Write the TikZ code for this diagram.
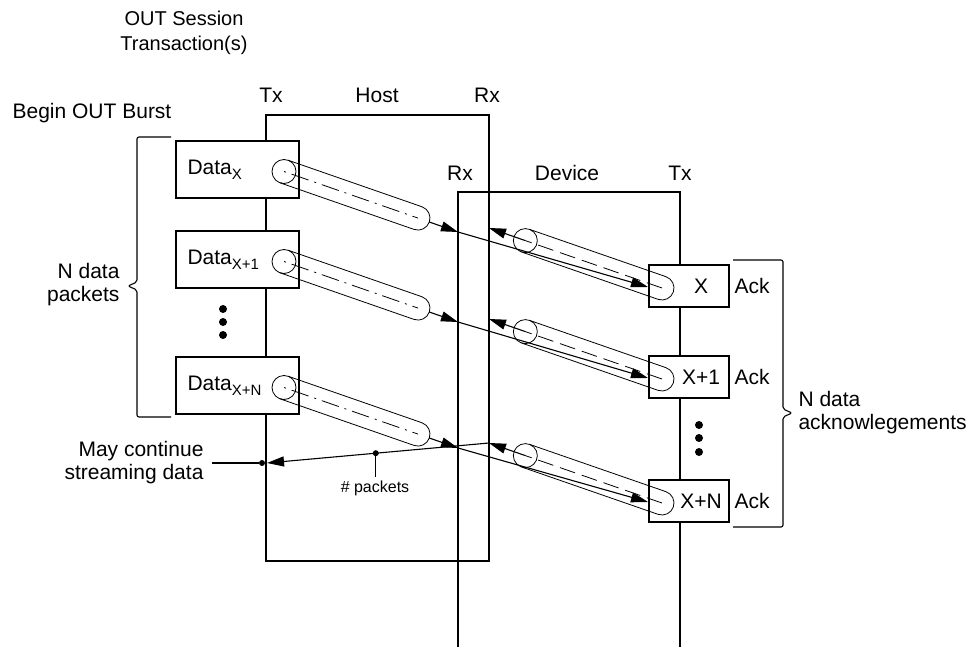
\documentclass[tikz,border=0pt]{standalone}
\usepackage{fontspec}
\setmainfont{Liberation Sans}
\usetikzlibrary{arrows.meta, positioning, calc}

\newcommand{\sub}[1]{\raisebox{-5pt}{\fontsize{15}{15}\selectfont #1}}
\newcommand{\drawpipe}[2]{%
  \draw[pipe] let \p1=($(#2)-(#1)$), \n1={atan2(-\y1,\x1)} in
    ($(#1)+(\n1+90:\rp)$) -- ($(#2)+(\n1+90:\rp)$)
    arc[start angle=\n1+90, end angle=\n1-90, radius=\rp]
    -- ($(#1)+(\n1-90:\rp)$);
  \draw[pipe] (#1) circle[radius=\rp];
}

\begin{document}
\begin{tikzpicture}[x=1pt, y=-1pt,
    every node/.style={font=\fontsize{21}{23}\selectfont},
    lane/.style={line width=1.1pt},
    databox/.style={draw, line width=1.1pt, fill=white, minimum width=123pt, minimum height=57pt, inner sep=0pt},
    ackbox/.style={draw, line width=1.1pt, fill=white, minimum width=80pt, minimum height=42pt, inner sep=0pt},
    pipe/.style={line width=0.8pt},
    arr/.style={line width=1.1pt, -{Triangle[length=17pt, width=10pt]}},
    dot/.style={circle, fill, inner sep=0pt, minimum size=8pt},
]
    \useasboundingbox (0,0) rectangle (971,647);
    \pgfmathsetmacro{\rp}{12}

    % host and device
    \coordinate (htx) at (266,115);
    \coordinate (hrx) at (489,561);
    \draw[lane] (htx) rectangle (hrx);
    \coordinate (drx) at (458,647);
    \coordinate (dtop) at (680,192);
    \coordinate (dtx) at (680,647);
    \draw[lane] (drx) |- (dtop) -- (dtx);

    \node[align=center, font=\fontsize{20}{25}\selectfont] (title) at (184,33) {OUT Session\\Transaction(s)};
    \node (burst) at (92,113) {Begin OUT Burst};
    \node (htxl) at (271,95) {Tx};
    \node (hostl) at (377,95) {Host};
    \node (hrxl) at (487,95) {Rx};
    \node (drxl) at (460,173) {Rx};
    \node (devl) at (567,173) {Device};
    \node (dtxl) at (680,173) {Tx};

    % braces
    \draw[lane, rounded corners=2pt] (171,137) -| (137,282) -- (128,286) -- (137,290) |- (171,417);
    \node[align=right, anchor=east] (npk) at (123,285) {N data\\packets};
    \draw[lane, rounded corners=2pt] (733,260) -| (783,409) -- (792,413) -- (783,417) |- (733,527);
    \node[align=left, anchor=west] (nack) at (795,413) {N data\\acknowlegements};

    \foreach \y in {309,322,335} \node[dot] at (223,\y) {};
    \foreach \y in {425,438,452} \node[dot] at (699,\y) {};

    % packets and acks
    \foreach \dy/\ay/\sb [count=\i] in {169.5/286/X, 259.5/377/X+1, 385.5/501/X+N} {
        \node[databox] (d\i) at (237.5,\dy) {};
        \node[anchor=west] (dt\i) at (184,\dy) {Data\sub{\sb}};
        \node[ackbox] (a\i) at (689,\ay) {};
        \node (at\i) at (701,\ay) {\sb};
        \node[anchor=west] (k\i) at (731,\ay) {Ack};

        \coordinate (c\i) at (284,\dy+2);
        \coordinate (t\i) at (458,\dy+62.5);
        \coordinate (e\i) at ($(c\i)!0.77!(t\i)$);
        \coordinate (s\i) at (662,\ay+2);
        \coordinate (u\i) at (489,\ay-58);
        \coordinate (q\i) at ($(s\i)!0.79!(u\i)$);
        \coordinate (b\i) at (648,\ay+1);

        \drawpipe{c\i}{e\i}
        \draw[pipe, dash pattern=on 2pt off 6pt on 18pt off 6pt] (c\i) -- (e\i);
        \draw[arr] ($(e\i)!\rp pt!(t\i)$) -- (t\i);
        \draw[arr] (t\i) -- (b\i);

        \drawpipe{q\i}{s\i}
        \draw[pipe, dash pattern=on 16pt off 7pt] (s\i) -- (q\i);
        \draw[arr] (q\i) -- (u\i);
    }

    % streaming
    \node[align=right, anchor=east] (cont) at (207,463) {May continue\\streaming data};
    \coordinate (hp) at (267,463);
    \node[dot, minimum size=6pt] (cdot) at (262,463) {};
    \draw[lane, shorten <=5pt] (cont.east) -- (cdot);
    \draw[arr] (u3) -- (hp);
    \node[dot, minimum size=6pt] (pdot) at ($(u3)!0.51!(hp)$) {};
    \node[font=\fontsize{16}{18}\selectfont] (pkt) at (375,488) {\# packets};
    \draw[lane] (pdot) -- (pdot |- pkt.north);
\end{tikzpicture}
\end{document}
